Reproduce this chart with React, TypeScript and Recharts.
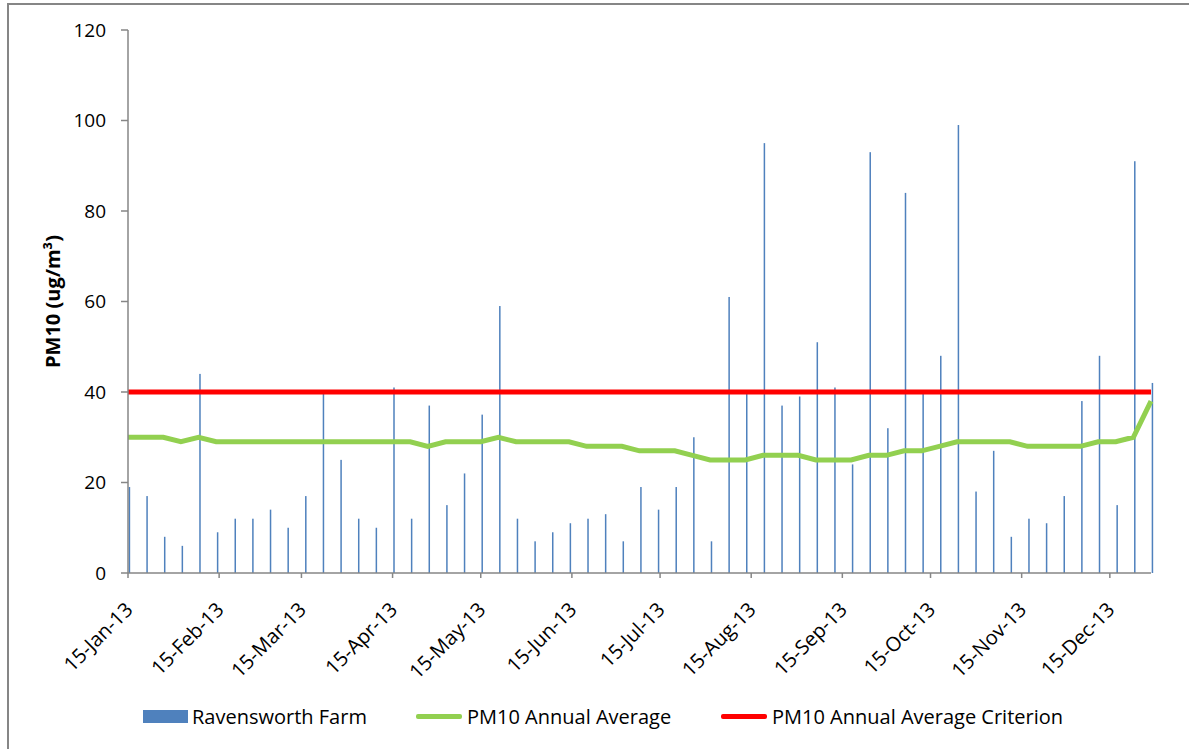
import React from 'react';
import { Bar, ComposedChart, Line, XAxis, YAxis } from 'recharts';

// 1-in-6 day sampling, starting 15-Jan-13
const sampleStep = 6;

const ravensworth = [
  19, 17, 8, 6, 44, 9, 12, 12, 14, 10, 17, 40, 25, 12, 10, 41, 12, 37, 15, 22, 35, 59,
  12, 7, 9, 11, 12, 13, 7, 19, 14, 19, 30, 7, 61, 40, 95, 37, 39, 51, 41, 24,
  93, 32, 84, 40, 48, 99, 18, 27, 8, 12, 11, 17, 38, 48, 15, 91, 42,
];

const annualAverage = [
  30, 30, 30, 29, 30, 29, 29, 29, 29, 29, 29, 29, 29, 29, 29, 29, 29, 28, 29, 29, 29, 30,
  29, 29, 29, 29, 28, 28, 28, 27, 27, 27, 26, 25, 25, 25, 26, 26, 26, 25, 25, 25,
  26, 26, 27, 27, 28, 29, 29, 29, 29, 28, 28, 28, 28, 29, 29, 30, 38,
];

const criterion = 40;

// days after 15-Jan-13 for each monthly tick
const tickDays = [0, 31, 59, 90, 120, 151, 181, 212, 243, 273, 304, 334];
const tickLabels = [
  '15-Jan-13', '15-Feb-13', '15-Mar-13', '15-Apr-13', '15-May-13', '15-Jun-13',
  '15-Jul-13', '15-Aug-13', '15-Sep-13', '15-Oct-13', '15-Nov-13', '15-Dec-13',
];

const yTicks = [0, 20, 40, 60, 80, 100, 120];

const legendItems = [
  { name: 'Ravensworth Farm', color: '#4F81BD', kind: 'box' },
  { name: 'PM10 Annual Average', color: '#92D050', kind: 'line' },
  { name: 'PM10 Annual Average Criterion', color: '#FF0000', kind: 'line' },
];

const data = ravensworth.map((v, i) => ({
  day: i * sampleStep,
  pm10: v,
  avg: annualAverage[i],
  criterion,
}));

const FONT = '"Open Sans", sans-serif';
const AXIS = '#868686';

function DateTick(props: any) {
  const { x, y, payload } = props;
  const idx = tickDays.indexOf(payload.value);
  const tx = x + 6;
  const ty = y + 31;
  return (
    <text
      x={tx}
      y={ty}
      transform={`rotate(-45, ${tx}, ${ty})`}
      textAnchor="end"
      fontFamily={FONT}
      fontSize={20}
      fill="#000"
    >
      {idx >= 0 ? tickLabels[idx] : ''}
    </text>
  );
}

// thin bar nudged right a little, like the Excel rendering
function ThinBar(props: any) {
  const { x, y, width, height, fill } = props;
  if (!height) return null;
  return <rect x={x + 1.5} y={y} width={width} height={height} fill={fill} />;
}

const legendLeft = [143, 416, 721];

export default function App() {
  return (
    <div style={{ position: 'absolute', left: 0, top: 0, width: 1189, height: 749, overflow: 'hidden', background: '#fff' }}>
      <div
        style={{
          position: 'absolute', left: 7, top: 3, width: 1300, height: 900,
          borderTop: `2px solid ${AXIS}`, borderLeft: `2px solid ${AXIS}`,
        }}
      />
      <div style={{ position: 'absolute', left: 0, top: 0 }}>
        <ComposedChart width={1189} height={749} data={data} margin={{ top: 30, right: 38, bottom: 0, left: 28 }}>
          <XAxis
            dataKey="day"
            type="number"
            domain={[0, 348]}
            ticks={tickDays}
            interval={0}
            height={176}
            tick={<DateTick />}
            tickSize={5}
            stroke={AXIS}
            strokeWidth={1.5}
          />
          <YAxis
            domain={[0, 120]}
            ticks={yTicks}
            width={100}
            tickSize={7}
            tickMargin={15}
            stroke={AXIS}
            strokeWidth={1.5}
            tick={{ fill: '#000', fontFamily: FONT, fontSize: 19 }}
            label={{
              value: 'PM10 (ug/m³)',
              angle: -90,
              position: 'insideLeft',
              offset: 25,
              style: { textAnchor: 'middle', fontFamily: FONT, fontSize: 20, fontWeight: 700, fill: '#000' },
            }}
          />
          <Bar dataKey="pm10" fill="#4F81BD" barSize={1.5} shape={<ThinBar />} isAnimationActive={false} />
          <Line dataKey="avg" stroke="#92D050" strokeWidth={5} dot={false} type="linear" isAnimationActive={false} />
          <Line dataKey="criterion" stroke="#FF0000" strokeWidth={5} dot={false} type="linear" isAnimationActive={false} />
        </ComposedChart>
      </div>
      {legendItems.map((item, i) => (
        <div
          key={item.name}
          style={{
            position: 'absolute', left: legendLeft[i], top: 702, height: 28,
            display: 'flex', alignItems: 'center', fontFamily: FONT, fontSize: 20, color: '#000', whiteSpace: 'nowrap',
          }}
        >
          <span
            style={{
              display: 'inline-block', width: item.kind === 'box' ? 45 : 46, height: item.kind === 'box' ? 13 : 5,
              background: item.color, marginRight: item.kind === 'box' ? 4 : 5, borderRadius: item.kind === 'box' ? 0 : 2,
            }}
          />
          {item.name}
        </div>
      ))}
    </div>
  );
}
